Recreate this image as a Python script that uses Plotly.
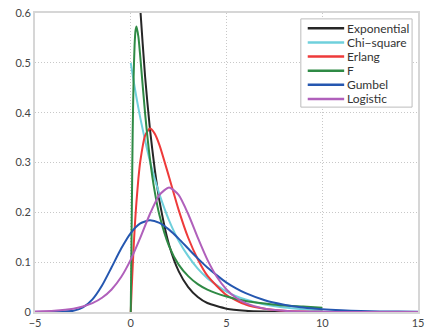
import plotly.graph_objects as go

# x positions (0..10) for the positive-support distributions
x_pos = [0, 0.05, 0.1, 0.15, 0.2, 0.25, 0.3, 0.4, 0.5, 0.75, 1, 1.25, 1.5, 2, 2.5, 3, 3.5, 4, 5, 6, 7, 8, 9, 10]
exponential = [1.0, 0.951, 0.905, 0.861, 0.819, 0.779, 0.741, 0.670, 0.607, 0.472, 0.368, 0.287, 0.223, 0.135, 0.082, 0.050, 0.030, 0.018, 0.0067, 0.0025, 0.0009, 0.0003, 0.0001, 0.00005]
chi_square = [0.5, 0.488, 0.476, 0.464, 0.452, 0.441, 0.430, 0.409, 0.389, 0.344, 0.303, 0.268, 0.236, 0.184, 0.143, 0.112, 0.087, 0.068, 0.041, 0.025, 0.015, 0.009, 0.0056, 0.0034]
erlang = [0.0, 0.048, 0.090, 0.129, 0.164, 0.195, 0.222, 0.268, 0.303, 0.354, 0.368, 0.358, 0.335, 0.271, 0.205, 0.149, 0.106, 0.073, 0.034, 0.015, 0.0064, 0.0027, 0.0011, 0.0005]
f_dist = [0.0, 0.183, 0.358, 0.471, 0.535, 0.565, 0.573, 0.552, 0.511, 0.398, 0.308, 0.242, 0.194, 0.132, 0.095, 0.072, 0.056, 0.045, 0.031, 0.022, 0.017, 0.013, 0.011, 0.0087]

# x positions (-5..15) for the real-line distributions
x_all = [-5, -4, -3, -2.5, -2, -1.5, -1, -0.5, 0, 0.5, 1, 1.5, 2, 2.5, 3, 3.5, 4, 4.5, 5, 5.5, 6, 7, 8, 9, 10, 11, 12, 13, 14, 15]
gumbel = [0.0, 0.00003, 0.0023, 0.0091, 0.0254, 0.0532, 0.0897, 0.1274, 0.1585, 0.1778, 0.1839, 0.1787, 0.1653, 0.1473, 0.1273, 0.1076, 0.0893, 0.0735, 0.0591, 0.0475, 0.0378, 0.0237, 0.0147, 0.0090, 0.0055, 0.0034, 0.0020, 0.0012, 0.0008, 0.0005]
logistic = [0.0009, 0.0025, 0.0067, 0.0112, 0.0177, 0.0285, 0.0452, 0.0701, 0.1050, 0.1491, 0.1966, 0.2350, 0.25, 0.2350, 0.1966, 0.1491, 0.1050, 0.0701, 0.0452, 0.0285, 0.0177, 0.0067, 0.0025, 0.0009, 0.0003, 0.0001, 0.00005, 0.00002, 0.00001, 0.0]

names = ["Exponential", "Chi\u2212square", "Erlang", "F", "Gumbel", "Logistic"]
colors = ["#262626", "#6fd0dc", "#ee3a3a", "#2f8a45", "#2557b0", "#b060bb"]
xs_list = [x_pos, x_pos, x_pos, x_pos, x_all, x_all]
ys_list = [exponential, chi_square, erlang, f_dist, gumbel, logistic]

fig = go.Figure()
for name, xs, ys, color in zip(names, xs_list, ys_list, colors):
    fig.add_trace(go.Scatter(x=xs, y=ys, mode="lines", name=name, showlegend=False,
                             line=dict(color=color, width=2, shape="spline", smoothing=0.6)))

axis_common = dict(showline=True, linecolor="#d6d6d6", linewidth=2, mirror=True,
                   showgrid=True, gridcolor="#c8c8c8", griddash="1px,2px", gridwidth=1,
                   zeroline=False, ticks="", tickfont=dict(size=11, color="#444"))
fig.update_xaxes(range=[-5, 15], tickvals=[-5, 0, 5, 10, 15], **axis_common)
fig.update_yaxes(range=[0, 0.6], tickvals=[0, 0.1, 0.2, 0.3, 0.4, 0.5, 0.6],
                 ticktext=["0", "0.1", "0.2", "0.3", "0.4", "0.5", "0.6"], **axis_common)

# compact legend box (paper coordinates)
L, R, T, B = 35, 424, 13, 318
def px(xp):
    return (xp - L) / (R - L)
def py(yp):
    return (B - yp) / (B - T)

shapes = [dict(type="rect", xref="paper", yref="paper", x0=px(305), x1=px(418), y0=py(109), y1=py(19),
               line=dict(color="#bdbdbd", width=1), fillcolor="white", layer="above")]
annotations = []
row_y = [28.5, 43, 57.3, 71.8, 86.2, 100.6]
for name, color, ry in zip(names, colors, row_y):
    shapes.append(dict(type="line", xref="paper", yref="paper", x0=px(312), x1=px(349),
                       y0=py(ry), y1=py(ry), line=dict(color=color, width=2.5), layer="above"))
    annotations.append(dict(xref="paper", yref="paper", x=px(350), y=py(ry), text=name,
                            showarrow=False, xanchor="left", yanchor="middle",
                            font=dict(size=12, color="#333")))

fig.update_layout(
    autosize=True,
    margin=dict(l=L, r=429 - R, t=T, b=334 - B),
    plot_bgcolor="white", paper_bgcolor="white",
    font=dict(family="Lato", size=11, color="#333"),
    showlegend=False,
    shapes=shapes, annotations=annotations,
)
fig.write_html("out.html", config={"displayModeBar": False, "responsive": True},
               default_width="100vw", default_height="100vh",
               post_script="document.body.style.margin='0';document.body.style.overflow='hidden';")
